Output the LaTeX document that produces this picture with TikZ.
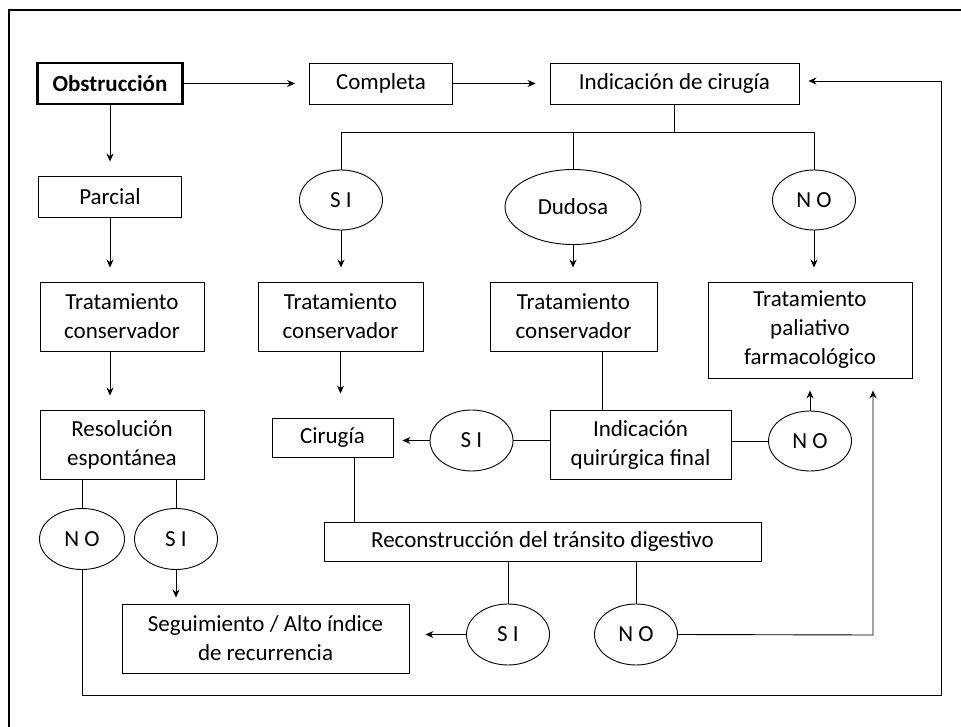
\documentclass[tikz,border=0pt]{standalone}
\usepackage{fontspec}
\setmainfont{Carlito}
\usetikzlibrary{arrows.meta,shapes.geometric,positioning,calc}

\begin{document}
\begin{tikzpicture}[-,>={Stealth[length=8pt,width=7pt]},x=1pt,y=-1pt,line width=0.9pt,font=\fontsize{23}{29}\selectfont]
 \tikzstyle{caja}=[draw, rectangle, align=center, inner sep=0pt]
 \tikzstyle{elip}=[draw, ellipse, inner sep=0pt, minimum width=83, minimum height=61]
 \tikzstyle{flecha}=[->, shorten >=14pt]
 \useasboundingbox (0,0) rectangle (961,727);
 % marco
 \draw[line width=2.5pt] (9,730) -- (9,10) -- (965,10);

 % columna izquierda
 \node[caja, line width=2.5pt, minimum width=145, minimum height=41] (obs) at (110,83.5) {\textbf{Obstrucción}};
 \node[caja, minimum width=143, minimum height=41] (parcial) at (110,196.5) {Parcial};
 \node[caja, minimum width=164, minimum height=69] (trat1) at (122,316.5) {Tratamiento\\conservador};
 \node[caja, minimum width=164, minimum height=69] (resol) at (122,444.5) {Resolución\\espontánea};
 \node[elip, minimum width=85] (no1) at (82,539) {N O};
 \node[elip] (si1) at (176,539) {S I};
 \node[caja, minimum width=287, minimum height=69] (segui) at (265.5,638.5) {Seguimiento / Alto índice\\de recurrencia};

 % fila superior
 \node[caja, minimum width=143, minimum height=41] (compl) at (381,83.5) {Completa};
 \node[caja, minimum width=249, minimum height=41] (indcir) at (674.5,83.5) {Indicación de cirugía};
 \node[elip, minimum height=60] (si2) at (341,200) {S I};
 \node[elip, minimum width=136, minimum height=75] (dud) at (573,207) {Dudosa};
 \node[elip, minimum height=60] (no2) at (814,200) {N O};
 \coordinate (rama) at (671,132);

 % centro y derecha
 \node[caja, minimum width=165, minimum height=69] (trat2) at (340.5,316.5) {Tratamiento\\conservador};
 \node[caja, minimum width=167, minimum height=69] (trat3) at (573.5,316.5) {Tratamiento\\conservador};
 \node[caja, minimum width=204, minimum height=96] (palia) at (810,330) {Tratamiento\\paliativo\\farmacológico};
 \node[caja, minimum width=121, minimum height=39] (cirugia) at (332.5,437.5) {Cirugía};
 \node[elip] (si3) at (471.5,440.5) {S I};
 \node[caja, minimum width=181, minimum height=69] (indq) at (640.5,444.5) {Indicación\\quirúrgica final};
 \node[elip, minimum height=60] (no3) at (810,441) {N O};
 \node[caja, minimum width=437, minimum height=39] (reco) at (542.5,541.5) {Reconstrucción del tránsito digestivo};
 \node[elip] (si4) at (508,634.5) {S I};
 \node[elip] (no4) at (636,634.5) {N O};

 \coordinate (t3b) at ($(trat3.south)+(29,0)$);
 \coordinate (cirb) at ($(cirugia.south)+(22,0)$);
 \coordinate (esq1) at (941,695);
 \coordinate (esq2) at (941,81);
 \coordinate (esq3) at (873,635);

 \draw[flecha] (obs.east) -- (obs.east -| compl.west);
 \draw[flecha] (compl.east) -- (compl.east -| indcir.west);
 \draw[flecha] (obs.south) -- (obs.south |- parcial.north);
 \draw[flecha] (parcial.south) -- (parcial.south |- trat1.north);
 \draw[flecha] (parcial.south |- trat1.south) -- (parcial.south |- resol.north);
 \draw (resol.south -| no1) -- (no1.north);
 \draw (resol.south -| si1) -- (si1.north);
 \draw[flecha, shorten >=6pt] (si1.south) -- (si1.south |- segui.north);
 \draw[flecha, shorten >=9pt] (no1.south) |- (esq1) -- (esq2) -- (esq2 -| indcir.east);

 \draw (indcir.south) -- (indcir.south |- rama);
 \draw (si2.north) -- (si2.north |- rama) -- (no2.north |- rama) -- (no2.north);
 \draw (dud.north) -- (dud.north |- rama);
 \draw[flecha] (si2.south) -- (si2.south |- trat2.north);
 \draw[flecha] (dud.south) -- (dud.south |- trat3.north);
 \draw[flecha] (no2.south) -- (no2.south |- palia.north);

 \draw[flecha, shorten >=24pt] (trat2.south) -- (trat2.south |- cirugia.north);
 \draw (t3b) -- (t3b |- indq.north);
 \draw[flecha, shorten >=9pt] (si3.west) -- (si3.west -| cirugia.east);
 \draw (si3.east) -- (si3.east -| indq.west);
 \draw (no3.west -| indq.east) -- (no3.west);
 \draw[flecha, shorten >=12pt] (no3.north) -- (no3.north |- palia.south);
 \draw (cirb) -- (cirb |- reco.north);
 \draw (si4.north |- reco.south) -- (si4.north);
 \draw (no4.north |- reco.south) -- (no4.north);
 \draw[flecha, shorten >=16pt] (si4.west) -- (si4.west -| segui.east);
 \draw[flecha, shorten >=12pt] (no4.east) -- (esq3) -- (esq3 |- palia.south);
\end{tikzpicture}
\end{document}
